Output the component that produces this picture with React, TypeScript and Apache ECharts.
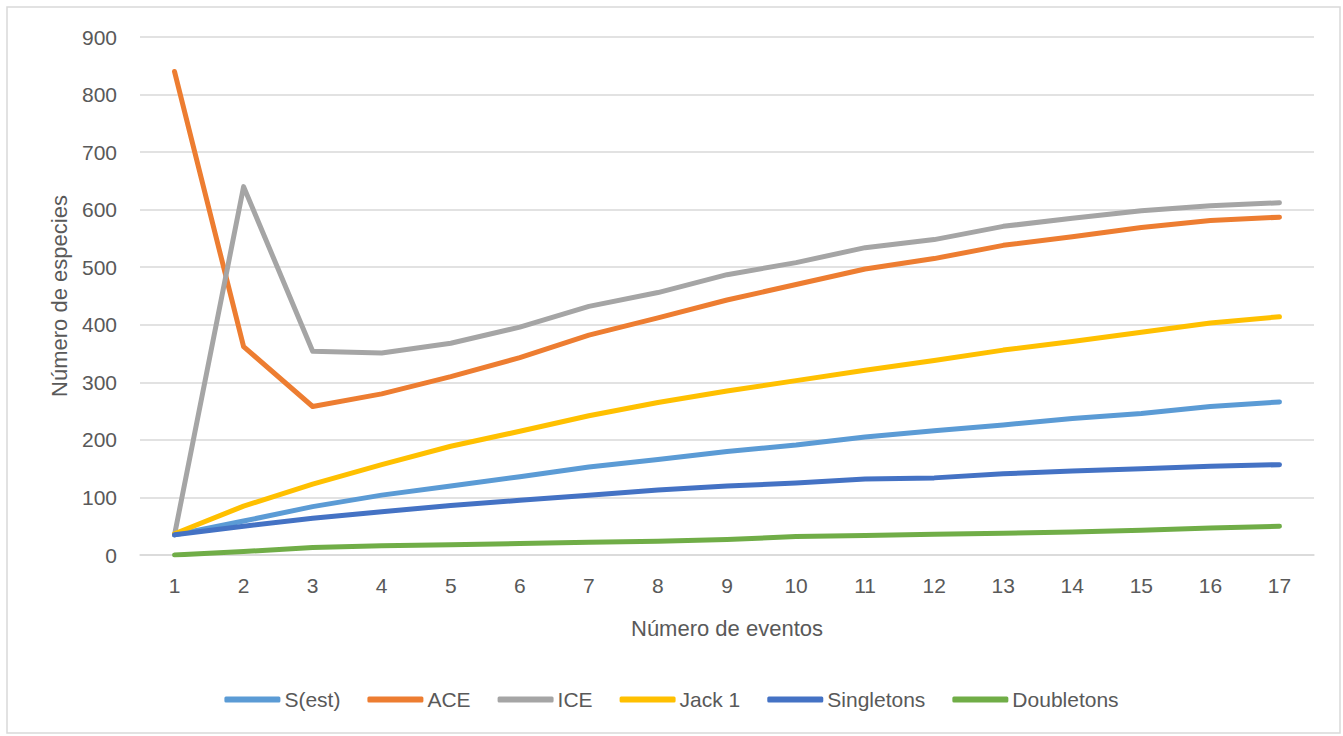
import React, { useEffect, useRef } from "react";
import * as echarts from "echarts";

const categories = ["1","2","3","4","5","6","7","8","9","10","11","12","13","14","15","16","17"];
const sEst = [35, 59, 84, 104, 120, 136, 153, 166, 180, 191, 205, 216, 226, 237, 246, 258, 266];
const ace = [840, 362, 258, 280, 310, 343, 382, 412, 443, 470, 497, 515, 538, 553, 569, 581, 587];
const ice = [35, 640, 354, 351, 368, 396, 432, 456, 487, 508, 534, 548, 571, 585, 598, 607, 612];
const jack1 = [37, 85, 123, 157, 189, 215, 242, 265, 285, 303, 321, 338, 356, 371, 387, 403, 414];
const singletons = [35, 50, 64, 75, 86, 95, 104, 113, 120, 125, 132, 134, 141, 146, 150, 154, 157];
const doubletons = [0, 6, 13, 16, 18, 20, 22, 24, 27, 32, 34, 36, 38, 40, 43, 47, 50];

const seriesNames = ["S(est)", "ACE", "ICE", "Jack 1", "Singletons", "Doubletons"];
const seriesData = [sEst, ace, ice, jack1, singletons, doubletons];
const colors = ["#5B9BD5", "#ED7D31", "#A5A5A5", "#FFC000", "#4472C4", "#70AD47"];

const FONT = "'Liberation Sans', Arial, sans-serif";
const TEXT = "#595959";

export default function App() {
  const ref = useRef<HTMLDivElement>(null);
  useEffect(() => {
    if (!ref.current) return;
    const chart = echarts.init(ref.current, null, { renderer: "svg" });
    chart.setOption({
      animation: false,
      backgroundColor: "#ffffff",
      textStyle: { fontFamily: FONT },
      graphic: [
        {
          type: "rect",
          shape: { x: 7, y: 7, width: 1333, height: 726 },
          style: { fill: "none", stroke: "#d9d9d9", lineWidth: 1.5 },
          silent: true,
        },
      ],
      grid: { left: 140, right: 29, top: 37, bottom: 181, containLabel: false },
      legend: {
        bottom: 21,
        left: "center",
        itemWidth: 56,
        itemHeight: 6,
        itemGap: 27,
        icon: "roundRect",
        textStyle: { color: TEXT, fontSize: 21, fontFamily: FONT, padding: [0, 0, 0, -1] },
        data: seriesNames,
      },
      xAxis: {
        type: "category",
        data: categories,
        boundaryGap: true,
        name: "Número de eventos",
        nameLocation: "middle",
        nameGap: 62,
        nameTextStyle: { color: TEXT, fontSize: 22, fontFamily: FONT },
        axisLine: { show: true, lineStyle: { color: "#d9d9d9", width: 1.5 } },
        axisTick: { show: false },
        axisLabel: { color: TEXT, fontSize: 21, margin: 20, fontFamily: FONT },
      },
      yAxis: {
        type: "value",
        min: 0,
        max: 900,
        interval: 100,
        name: "Número de especies",
        nameLocation: "middle",
        nameGap: 70,
        nameRotate: 90,
        nameTextStyle: { color: TEXT, fontSize: 22, fontFamily: FONT },
        axisLine: { show: false },
        axisTick: { show: false },
        axisLabel: { color: TEXT, fontSize: 21, margin: 23, fontFamily: FONT },
        splitLine: { lineStyle: { color: "#d9d9d9", width: 1.5 } },
      },
      series: seriesNames.map((name, i) => ({
        name,
        type: "line",
        data: seriesData[i],
        showSymbol: false,
        symbol: "none",
        color: colors[i],
        lineStyle: { color: colors[i], width: 5, cap: "round", join: "round" },
      })),
    });
    return () => chart.dispose();
  }, []);
  return (
    <div
      ref={ref}
      style={{ position: "absolute", left: 0, top: 0, width: 1343, height: 736 }}
    />
  );
}
